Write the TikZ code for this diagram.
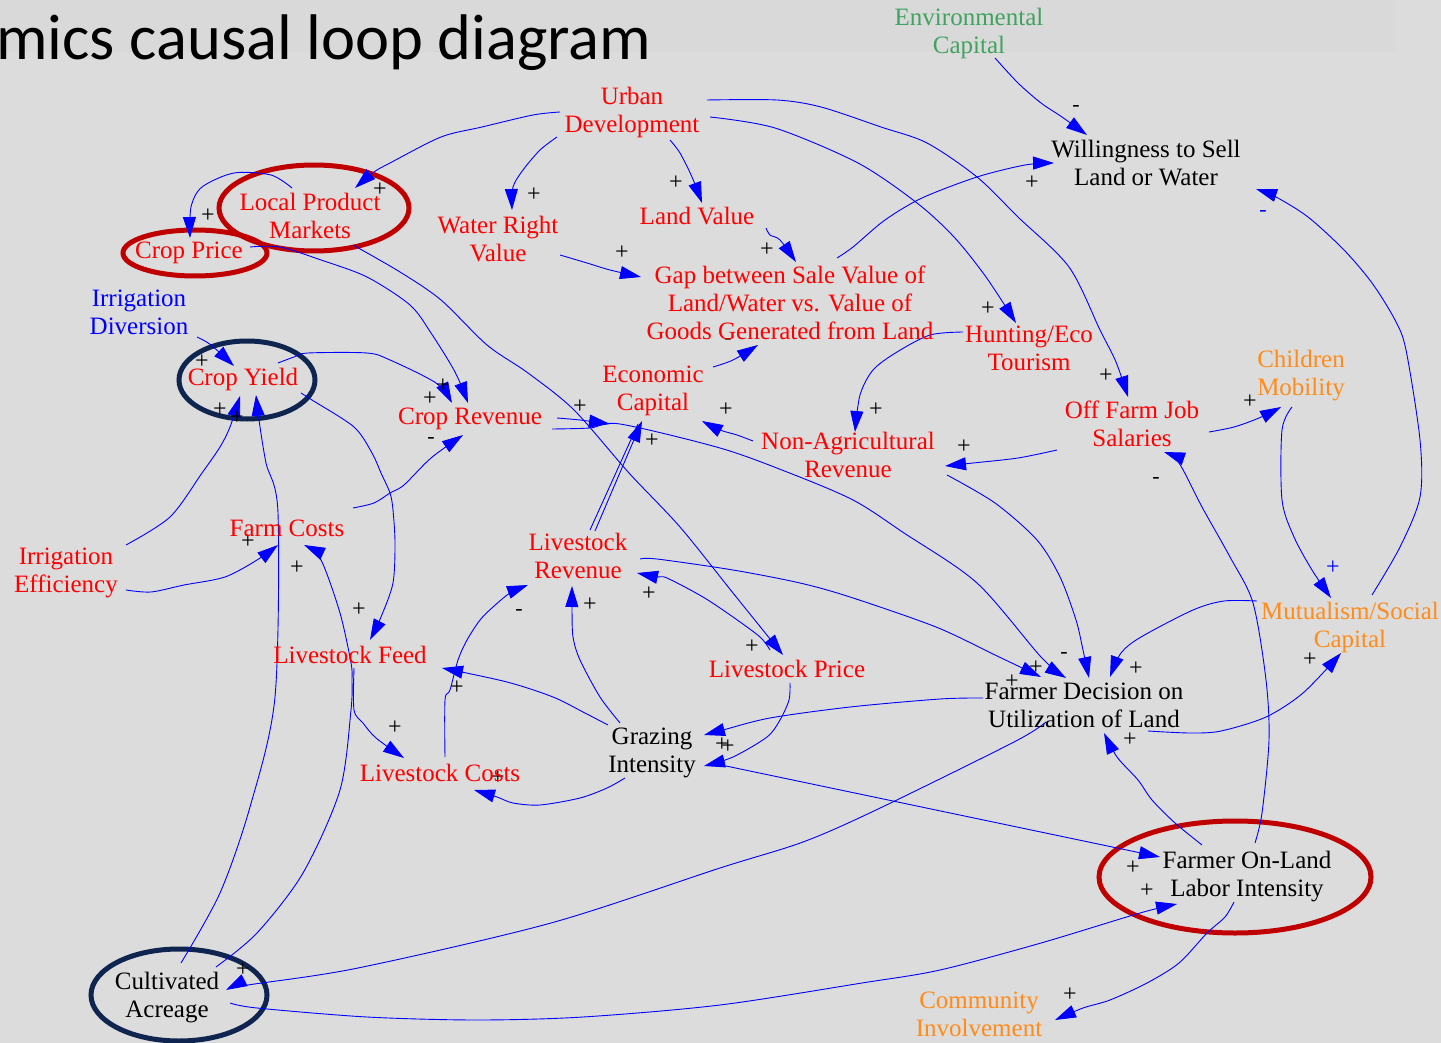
\documentclass[tikz,border=0pt]{standalone}
\usepackage{fontspec}
\setmainfont{Liberation Serif}
\newfontfamily\titlefont{Carlito}
\usetikzlibrary{arrows.meta}
\definecolor{bg}{HTML}{DCDCDC}
\definecolor{titlebg}{HTML}{D9D9D9}
\definecolor{lineblue}{HTML}{0000FF}
\definecolor{txtred}{HTML}{FF0000}
\definecolor{ellred}{HTML}{C00000}
\definecolor{navy}{HTML}{0F2550}
\definecolor{orng}{HTML}{FF8C1A}
\definecolor{grn}{HTML}{3FA35F}
\tikzset{
  lbl/.style={font=\fontsize{25}{28}\selectfont, align=center, inner sep=0pt},
  rtxt/.style={lbl, text=txtred},
  ktxt/.style={lbl, text=black},
  btxt/.style={lbl, text=lineblue},
  otxt/.style={lbl, text=orng},
  gtxt/.style={lbl, text=grn},
  cl/.style={draw=lineblue, line width=0.9pt, -{Triangle[length=21pt,width=13pt]}},
  plainline/.style={draw=lineblue, line width=0.9pt},
  sgn/.style={font=\fontsize{24}{24}\selectfont, inner sep=0pt, text=black},
  msgn/.style={font=\fontsize{22}{22}\selectfont, inner sep=0pt, text=black},
  bsgn/.style={sgn, text=lineblue},
  ell/.style={line width=5pt}
}
\begin{document}
\begin{tikzpicture}[x=1pt,y=-1pt]
\useasboundingbox (0,0) rectangle (1441,1043);
\fill[bg] (0,0) rectangle (1441,1043);
\fill[titlebg] (0,0) rectangle (1396,52);

% title
\node[anchor=base west, inner sep=0pt, font=\titlefont\fontsize{64.5}{64.5}\selectfont] (title) at (-4,60) {mics causal loop diagram};

% ellipses
\draw[ell, ellred] (314,208) ellipse [x radius=95pt, y radius=43pt];
\draw[ell, ellred] (195,253) ellipse [x radius=72pt, y radius=23pt];
\draw[ell, navy] (247,380) ellipse [x radius=68pt, y radius=39pt];
\draw[ell, ellred] (1235,877) ellipse [x radius=136pt, y radius=56pt];
\draw[ell, navy] (179,995) ellipse [x radius=88pt, y radius=46pt];

% connectors
\draw[cl] plot[smooth] coordinates {(560,112) (533,115) (482,127) (441,137) (390,163) (374,172) (355,188)};
\draw[cl] plot[smooth] coordinates {(557,137) (540,150) (523,170) (513,187) (512,210)};
\draw[cl] plot[smooth] coordinates {(670,140) (680,153) (692,177) (702,203)};
\draw[cl] plot[smooth] coordinates {(710,117) (775,128) (858,163) (917,203) (954,237) (986,277) (1016,323)};
\draw[cl] plot[smooth] coordinates {(707,100) (777,100) (821,107) (881,127) (927,143) (977,177) (1018,217) (1069,267) (1100,330) (1116,362) (1128,397)};
\draw[cl] plot[smooth] coordinates {(995,58) (1018,83) (1041,103) (1062,117) (1087,135)};
\draw[cl] plot[smooth] coordinates {(837,258) (853,247) (885,220) (922,198) (977,177) (1025,165) (1054,163)};
\draw[cl] plot[smooth] coordinates {(1372,595) (1400,547) (1420,497) (1420,440) (1406,350) (1395,320) (1372,283) (1344,250) (1308,217) (1276,197) (1256,189)};
\draw[cl] plot[smooth] coordinates {(766,228) (770,235) (780,240) (796,262)};
\draw[cl] plot[smooth] coordinates {(560,255) (587,263) (610,270) (641,277)};
\draw[cl] plot[smooth] coordinates {(713,367) (733,360) (758,345)};
\draw[cl] plot[smooth] coordinates {(292,188) (271,175) (234,173) (202,187) (191,207) (190,238)};
\draw[cl] plot[smooth] coordinates {(278,363) (294,357) (308,353) (367,353) (390,360) (436,383) (452,403)};
\draw[cl] plot[smooth] coordinates {(250,247) (280,247) (321,260) (367,277) (410,305) (431,333) (455,372) (468,403)};
\draw[cl] plot[smooth] coordinates {(353,508) (374,503) (390,493) (404,485) (431,458) (463,435)};
\draw[cl] plot[smooth] coordinates {(557,418) (580,420) (610,424)};
\draw[plainline] (590,530) -- (638,424);
\draw[cl] (595,531) -- (642,421);
\draw[cl] plot[smooth] coordinates {(753,441) (737,435) (720,430) (702,421)};
\draw[cl] plot[smooth] coordinates {(963,332) (930,335) (897,352) (873,370) (860,395) (855,432)};
\draw[cl] plot[smooth] coordinates {(1057,450) (1018,458) (973,463) (945,466)};
\draw[cl] plot[smooth] coordinates {(947,475) (995,503) (1037,540) (1060,577) (1076,620) (1083,650) (1089,678)};
\draw[cl] plot[smooth] coordinates {(552,429) (590,428) (620,424) (720,448) (787,472) (853,500) (904,533) (977,583) (1041,657) (1066,678)};
\draw[cl] plot[smooth] coordinates {(640,559) (657,559) (733,570) (800,583) (850,597) (936,627) (995,655) (1041,677)};
\draw[cl] plot[smooth] coordinates {(1257,601) (1224,601) (1193,610) (1141,637) (1121,653) (1110,677)};
\draw[cl] plot[smooth] coordinates {(1202,845) (1175,823) (1152,800) (1138,780) (1117,757) (1104,733)};
\draw[cl] plot[smooth] coordinates {(1148,731) (1190,733) (1221,731) (1266,717) (1303,693) (1341,653)};
\draw[cl] plot[smooth] coordinates {(1292,407) (1282,430) (1282,500) (1294,537) (1312,570) (1331,598)};
\draw[cl] plot[smooth] coordinates {(1209,432) (1234,427) (1259,418) (1281,407)};
\draw[cl] plot[smooth] coordinates {(1255,843) (1262,813) (1269,740) (1266,680) (1253,603) (1230,557) (1202,507) (1179,463) (1164,452)};
\draw[cl] plot[smooth] coordinates {(1234,902) (1225,917) (1207,933) (1179,963) (1147,983) (1110,1000) (1083,1008) (1055,1020)};
\draw[cl] plot[smooth] coordinates {(230,1003) (257,1008) (367,1017) (477,1020) (583,1017) (720,1005) (862,983) (940,970) (1041,943) (1140,913) (1177,904)};
\draw[cl] (726,766) -- (1160,857);
\draw[cl] plot[smooth] coordinates {(1046,722) (1014,742) (876,810) (803,842) (720,868) (551,923) (358,968) (248,985) (226,990)};
\draw[cl] plot[smooth] coordinates {(983,698) (940,699) (850,707) (770,718) (723,730) (704,735)};
\draw[cl] plot[smooth] coordinates {(790,683) (789,700) (780,720) (767,737) (733,757) (704,766)};
\draw[cl] plot[smooth] coordinates {(620,723) (600,697) (580,660) (573,637) (572,610) (572,586)};
\draw[cl] plot[smooth] coordinates {(608,725) (583,712) (553,697) (507,682) (442,668)};
\draw[cl] plot[smooth] coordinates {(625,778) (607,788) (580,798) (540,805) (513,803) (497,797) (474,790)};
\draw[cl] plot[smooth] coordinates {(445,757) (445,700) (450,690) (458,660) (467,640) (480,620) (493,607) (510,593) (528,585)};
\draw[cl] plot[smooth] coordinates {(354,668) (354,710) (363,723) (376,738) (404,758)};
\draw[cl] plot[smooth] coordinates {(770,650) (760,637) (733,617) (703,597) (667,578) (657,577) (637,573)};
\draw[cl] plot[smooth] coordinates {(353,245) (400,272) (441,300) (487,345) (528,373) (574,410) (629,473) (680,527) (733,593) (783,655)};
\draw[cl] plot[smooth] coordinates {(301,393) (312,400) (354,427) (372,453) (381,473) (390,493) (393,510) (395,543) (393,583) (381,617) (370,640)};
\draw[cl] plot[smooth] coordinates {(197,337) (211,345) (234,366)};
\draw[cl] plot[smooth] coordinates {(126,545) (170,517) (202,473) (220,447) (230,427) (240,396)};
\draw[cl] plot[smooth] coordinates {(181,963) (220,893) (250,807) (275,697) (278,513) (266,463) (259,420) (256,395)};
\draw[cl] plot[smooth] coordinates {(216,967) (257,933) (303,873) (340,790) (351,710) (352,680) (351,663) (340,613) (321,560) (304,545)};
\draw[cl] plot[smooth] coordinates {(126,590) (151,592) (184,585) (225,577) (257,560) (278,545)};

% signs
\foreach \p in {(380,190),(534,195),(676,183),(988,309),(1106,376),(1032,183),(767,250),(622,253),(208,216),(443,386),(430,399),(580,407),(652,441),(726,410),(876,410),(964,447),(1036,668),(1012,682),(1136,669),(1130,740),(1310,660),(1250,402),(1070,995),(1147,891),(1133,868),(243,970),(722,745),(728,747),(590,605),(457,688),(498,778),(395,728),(649,594),(752,647),(359,610),(202,362),(220,410),(237,418),(297,568),(248,542)}
  \node[sgn] at \p {+};
\foreach \p in {(1076,108),(728,341),(431,440),(1064,655),(1156,480),(519,612)}
  \node[msgn] at \p {-};
\node[msgn, text=lineblue] at (1263,213) {-};
\node[bsgn] at (1333,568) {+};

% variables
\node[gtxt] (env) at (969,33) {Environmental\\Capital};
\node[rtxt] (urban) at (632,112) {Urban\\Development};
\node[ktxt] (will) at (1146,163) {Willingness to Sell\\Land or Water};
\node[rtxt] (lpm) at (310,216) {Local Product\\Markets};
\node[rtxt] (cropprice) at (189,253) {Crop Price};
\node[rtxt] (wrv) at (498,239) {Water Right\\Value};
\node[rtxt] (landvalue) at (697,216) {Land Value};
\node[rtxt] (gap) at (790,303) {Gap between Sale Value of\\Land/Water vs. Value of\\Goods Generated from Land};
\node[btxt] (irrdiv) at (139,312) {Irrigation\\Diversion};
\node[rtxt] (hunting) at (1029,348) {Hunting/Eco\\Tourism};
\node[otxt] (children) at (1301,376) {Children\\Mobility};
\node[rtxt] (cropyield) at (243,379) {Crop Yield};
\node[rtxt] (econ) at (653,391) {Economic\\Capital};
\node[rtxt] (croprev) at (470,419) {Crop Revenue};
\node[rtxt] (offfarm) at (1132,424) {Off Farm Job\\Salaries};
\node[rtxt] (nonag) at (848,455) {Non-Agricultural\\Revenue};
\node[rtxt] (farmcosts) at (287,528) {Farm Costs};
\node[rtxt] (irreff) at (66,573) {Irrigation\\Efficiency};
\node[rtxt] (livrev) at (578,556) {Livestock\\Revenue};
\node[otxt] (mutual) at (1350,627) {Mutualism/Social\\Capital};
\node[rtxt] (livfeed) at (350,655) {Livestock Feed};
\node[rtxt] (livprice) at (787,669) {Livestock Price};
\node[ktxt] (fd) at (1084,705) {Farmer Decision on\\Utilization of Land};
\node[ktxt] (grazing) at (652,753) {Grazing\\Intensity};
\node[rtxt] (livcosts) at (440,773) {Livestock Costs};
\node[ktxt] (fol) at (1247,877) {Farmer On-Land\\Labor Intensity};
\node[ktxt] (cult) at (167,998) {Cultivated\\Acreage};
\node[otxt] (comm) at (979,1014) {Community\\Involvement};
\end{tikzpicture}
\end{document}
